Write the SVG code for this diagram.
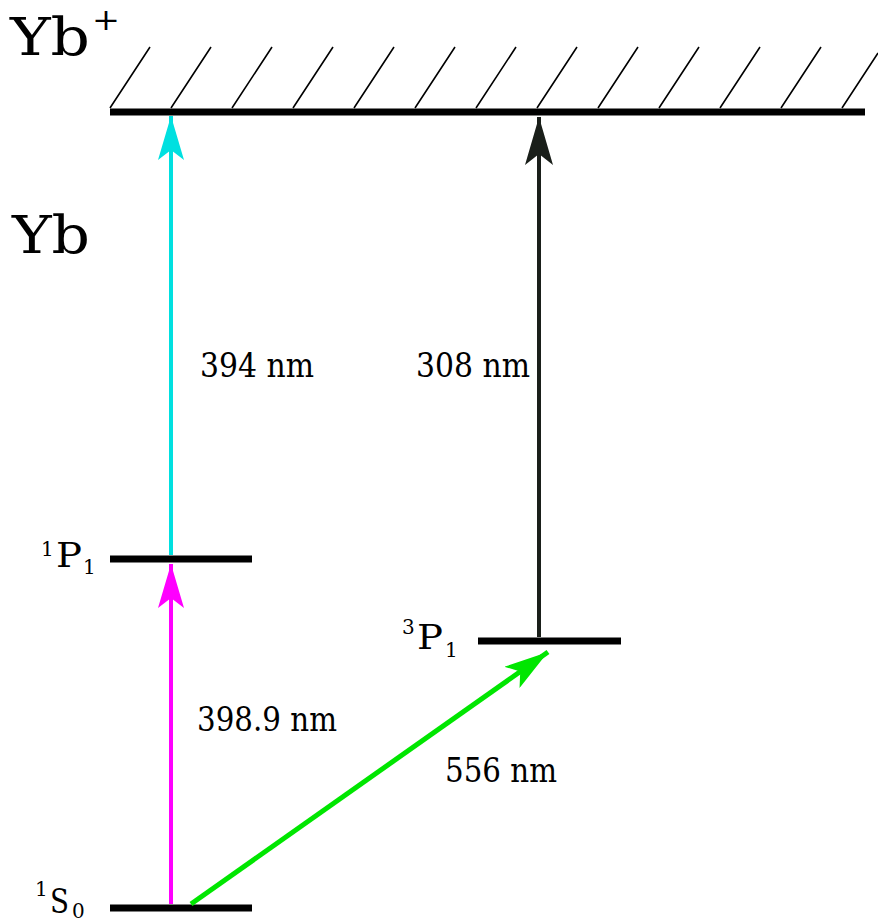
<svg xmlns="http://www.w3.org/2000/svg" width="878" height="924" viewBox="0 0 878 924" font-family="'DejaVu Serif','Liberation Serif',serif">
<style>
text{font-family:"DejaVu Serif","Liberation Serif",serif;fill:#000}
.big{font-size:52px}
.lbl{font-size:33px}
.lp{font-size:34px}
.sm{font-size:20px}
.lvl{stroke:#000;stroke-width:7;fill:none}
.hatch{stroke:#000;stroke-width:1.6;fill:none}
</style>
<defs>
<marker id="hc" markerUnits="userSpaceOnUse" markerWidth="44" markerHeight="26" refX="44" refY="13" orient="auto" viewBox="0 0 44 26"><path d="M0,0 L44,13 L0,26 L10,13 Z" fill="#00e0e0"/></marker>
<marker id="hm" markerUnits="userSpaceOnUse" markerWidth="44" markerHeight="26" refX="44" refY="13" orient="auto" viewBox="0 0 44 26"><path d="M0,0 L44,13 L0,26 L10,13 Z" fill="#ff00ff"/></marker>
<marker id="hk" markerUnits="userSpaceOnUse" markerWidth="48" markerHeight="28" refX="48" refY="14" orient="auto" viewBox="0 0 48 28"><path d="M0,0 L48,14 L0,28 L11,14 Z" fill="#1a1f1a"/></marker>
<marker id="hg" markerUnits="userSpaceOnUse" markerWidth="44" markerHeight="26" refX="44" refY="13" orient="auto" viewBox="0 0 44 26"><path d="M0,0 L44,13 L0,26 L10,13 Z" fill="#00e600"/></marker>
</defs>
<g id="ion-continuum">
<line class="lvl" x1="110" y1="112" x2="865" y2="112"/>
<path class="hatch" d="M110,108 L150,47 M171,108 L211,47 M232,108 L272,47 M293,108 L333,47 M354,108 L394,47 M415,108 L455,47 M476,108 L516,47 M537,108 L577,47 M598,108 L638,47 M659,108 L699,47 M720,108 L760,47 M781,108 L821,47 M842,108 L878,53"/>
<text class="big" x="10" y="55" textLength="80" lengthAdjust="spacingAndGlyphs">Yb</text>
<text x="92" y="30" style="font-size:30px" textLength="28" lengthAdjust="spacingAndGlyphs">+</text>
</g>
<g id="atom-label"><text class="big" x="12" y="253" textLength="78" lengthAdjust="spacingAndGlyphs">Yb</text></g>
<g id="level-1P1">
<line class="lvl" x1="110" y1="559" x2="252" y2="559"/>
<text class="sm" x="41" y="556">1</text>
<text class="lp" x="56" y="567" textLength="26" lengthAdjust="spacingAndGlyphs">P</text>
<text class="sm" x="83" y="574">1</text>
</g>
<g id="level-3P1">
<line class="lvl" x1="478" y1="641" x2="621" y2="641"/>
<text class="sm" x="402" y="634">3</text>
<text class="lp" x="417" y="649" textLength="26" lengthAdjust="spacingAndGlyphs">P</text>
<text class="sm" x="445" y="657">1</text>
</g>
<g id="level-1S0">
<line class="lvl" x1="110" y1="908" x2="252" y2="908"/>
<text class="sm" x="35" y="896">1</text>
<text class="lp" x="50" y="913" textLength="19" lengthAdjust="spacingAndGlyphs">S</text>
<text class="sm" x="72" y="918">0</text>
</g>
<g id="connectors" fill="none" stroke-width="4">
<line x1="171" y1="555" x2="171" y2="116" stroke="#00e0e0" marker-end="url(#hc)"/>
<line x1="171" y1="904" x2="171" y2="564" stroke="#ff00ff" marker-end="url(#hm)"/>
<line x1="539" y1="637" x2="539" y2="117" stroke="#1a1f1a" marker-end="url(#hk)"/>
<line x1="191" y1="904" x2="548" y2="652" stroke="#00e600" stroke-width="5" marker-end="url(#hg)"/>
</g>
<g id="labels">
<text class="lbl" x="200" y="377" textLength="114" lengthAdjust="spacingAndGlyphs">394 nm</text>
<text class="lbl" x="416" y="377" textLength="114" lengthAdjust="spacingAndGlyphs">308 nm</text>
<text class="lbl" x="197" y="731" textLength="140" lengthAdjust="spacingAndGlyphs">398.9 nm</text>
<text class="lbl" x="445" y="782" textLength="112" lengthAdjust="spacingAndGlyphs">556 nm</text>
</g>
</svg>
